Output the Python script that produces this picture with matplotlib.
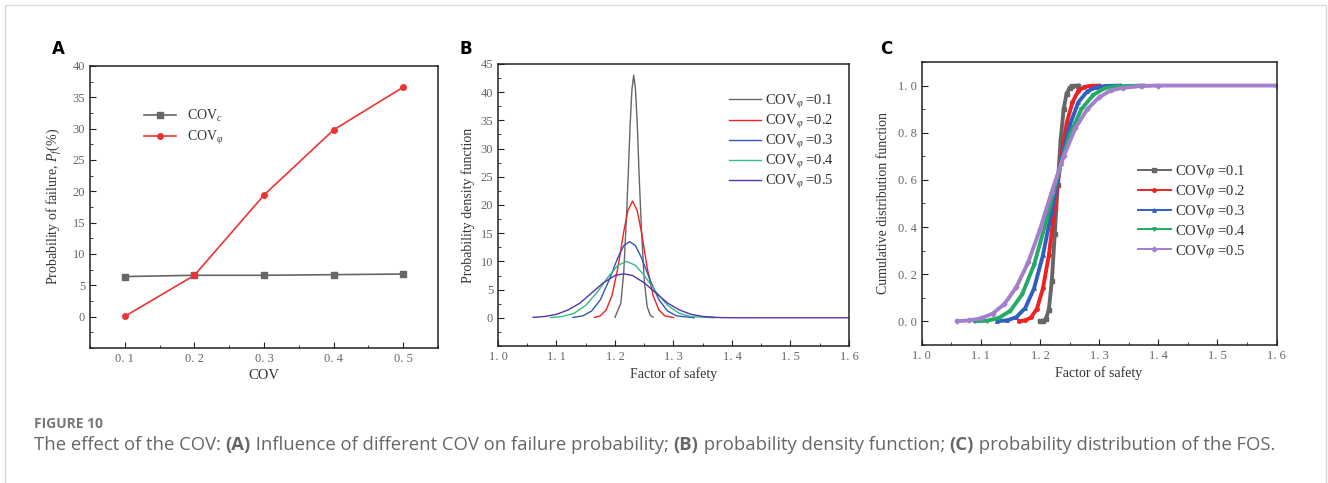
import numpy as np
import matplotlib
matplotlib.use('Agg')
import matplotlib.pyplot as plt
from matplotlib.patches import Rectangle
from matplotlib.ticker import FixedLocator, MultipleLocator

plt.rcParams.update({'font.size': 9})
plt.rcParams['font.family'] = ['Liberation Serif', 'DejaVu Serif']
plt.rcParams['mathtext.fontset'] = 'custom'
plt.rcParams['mathtext.rm'] = 'Liberation Serif'
plt.rcParams['mathtext.it'] = 'Liberation Serif:italic'

# ---- panel A: failure probability ----
cov = [0.1, 0.2, 0.3, 0.4, 0.5]
pf_c = [6.4, 6.6, 6.6, 6.7, 6.8]
pf_phi = [0.05, 6.6, 19.4, 29.8, 36.6]
a_xticks = [0.1, 0.2, 0.3, 0.4, 0.5]
a_xlabels = ['0. 1', '0. 2', '0. 3', '0. 4', '0. 5']
a_yticks = [0, 5, 10, 15, 20, 25, 30, 35, 40]

# ---- panel B: PDF curves ----
pdf_x1 = [1.200, 1.210, 1.215, 1.220, 1.223, 1.226, 1.229, 1.232, 1.235, 1.238, 1.241, 1.245, 1.250,
          1.255, 1.260, 1.265]
pdf_y1 = [0.1, 2.6, 8.1, 18.7, 26.5, 34.5, 40.5, 43.0, 40.5, 34.5, 26.0, 16.1, 6.6, 2.0, 0.5, 0.1]
pdf_x2 = [1.165, 1.175, 1.185, 1.195, 1.205, 1.215, 1.222, 1.230, 1.238, 1.245, 1.255, 1.265, 1.275,
          1.285, 1.300]
pdf_y2 = [0.07, 0.36, 1.4, 4.0, 8.9, 15.3, 19.0, 20.7, 19.0, 15.3, 8.9, 4.0, 1.4, 0.36, 0.03]
pdf_x3 = [1.128, 1.145, 1.160, 1.175, 1.190, 1.205, 1.215, 1.225, 1.235, 1.245, 1.260, 1.275, 1.290,
          1.305, 1.335]
pdf_y3 = [0.06, 0.35, 1.2, 3.2, 6.7, 10.7, 12.8, 13.5, 12.8, 10.7, 6.7, 3.2, 1.2, 0.35, 0.01]
pdf_x4 = [1.090, 1.110, 1.130, 1.150, 1.170, 1.190, 1.205, 1.220, 1.235, 1.250, 1.270, 1.290, 1.310,
          1.330, 1.370]
pdf_y4 = [0.05, 0.23, 0.8, 2.2, 4.6, 7.5, 9.3, 10.0, 9.3, 7.5, 4.6, 2.2, 0.8, 0.23, 0.01]
pdf_x5 = [1.060, 1.080, 1.100, 1.120, 1.140, 1.160, 1.180, 1.200, 1.215, 1.230, 1.250, 1.270, 1.290,
          1.310, 1.330, 1.350, 1.380, 1.420, 1.600]
pdf_y5 = [0.08, 0.24, 0.62, 1.4, 2.6, 4.4, 6.2, 7.5, 7.8, 7.5, 6.2, 4.4, 2.6, 1.4, 0.62, 0.24, 0.04,
          0.0, 0.0]

# ---- panel C: CDF curves ----
cdf_x1 = [1.200, 1.205, 1.210, 1.215, 1.220, 1.225, 1.230, 1.235, 1.240, 1.245, 1.250, 1.255, 1.265]
cdf_y1 = [0.0, 0.002, 0.01, 0.05, 0.17, 0.37, 0.58, 0.77, 0.90, 0.966, 0.99, 0.998, 1.0]
cdf_x2 = [1.165, 1.175, 1.185, 1.195, 1.205, 1.215, 1.225, 1.235, 1.245, 1.255, 1.265, 1.275, 1.285,
          1.300]
cdf_y2 = [0.001, 0.004, 0.017, 0.054, 0.14, 0.28, 0.48, 0.68, 0.84, 0.93, 0.978, 0.994, 0.999, 1.0]
cdf_x3 = [1.128, 1.145, 1.160, 1.175, 1.190, 1.205, 1.220, 1.235, 1.250, 1.265, 1.280, 1.295, 1.310,
          1.335]
cdf_y3 = [0.001, 0.005, 0.018, 0.056, 0.14, 0.28, 0.47, 0.67, 0.83, 0.93, 0.975, 0.993, 0.998, 1.0]
cdf_x4 = [1.090, 1.110, 1.130, 1.150, 1.170, 1.190, 1.210, 1.230, 1.250, 1.270, 1.290, 1.310, 1.330,
          1.375]
cdf_y4 = [0.001, 0.003, 0.014, 0.045, 0.115, 0.24, 0.42, 0.62, 0.79, 0.90, 0.96, 0.99, 0.997, 1.0]
cdf_x5 = [1.060, 1.080, 1.100, 1.120, 1.140, 1.160, 1.180, 1.200, 1.220, 1.240, 1.260, 1.280, 1.300,
          1.320, 1.340, 1.370, 1.400, 1.600]
cdf_y5 = [0.001, 0.004, 0.013, 0.033, 0.074, 0.145, 0.25, 0.39, 0.55, 0.70, 0.82, 0.90, 0.95,
          0.98, 0.99, 0.998, 1.0, 1.0]

fos_ticks = [1.0, 1.1, 1.2, 1.3, 1.4, 1.5, 1.6]
fos_labels = ['1. 0', '1. 1', '1. 2', '1. 3', '1. 4', '1. 5', '1. 6']
b_yticks = [0, 5, 10, 15, 20, 25, 30, 35, 40, 45]
c_yticks = [0.0, 0.2, 0.4, 0.6, 0.8, 1.0]
c_ylabels = ['0. 0', '0. 2', '0. 4', '0. 6', '0. 8', '1. 0']
series_names = ['0.1', '0.2', '0.3', '0.4', '0.5']

tick_col = '#666666'
lab_col = '#333333'


def style_axis(ax):
    for sp in ax.spines.values():
        sp.set_linewidth(1.1)
        sp.set_color('#222222')
    ax.tick_params(which='both', direction='in', top=False, right=False,
                   colors='#222222', labelcolor=tick_col, labelsize=9)
    ax.tick_params(which='major', length=4)
    ax.tick_params(which='minor', length=2.5)


fig = plt.figure(figsize=(13.28, 4.83), dpi=100, facecolor='w')
fig.patches.append(Rectangle((5 / 1328, -0.05), 1321 / 1328, 1 - 5 / 483 + 0.05,
                             transform=fig.transFigure, fill=False,
                             edgecolor='#d9d9d9', linewidth=1.0))

# panel A
ax1 = fig.add_axes([0.0678, 0.2795, 0.262, 0.584])
ax1.plot(cov, pf_c, color='#666666', linewidth=1.2, marker='s', markersize=4, label='COV$_{\\mathit{c}}$')
ax1.plot(cov, pf_phi, color='#ee3333', linewidth=1.2, marker='o', markersize=4, label='COV$_{\\varphi}$')
ax1.set_xlim(0.05, 0.55)
ax1.set_ylim(-5, 40)
ax1.xaxis.set_major_locator(FixedLocator(a_xticks))
ax1.set_xticklabels(a_xlabels)
ax1.xaxis.set_minor_locator(MultipleLocator(0.05))
ax1.yaxis.set_major_locator(FixedLocator(a_yticks))
ax1.yaxis.set_minor_locator(MultipleLocator(2.5))
ax1.set_xlabel('COV', fontsize=10.5, color=lab_col, labelpad=3)
ax1.set_ylabel('Probability of failure, $\\mathit{P}_{\\mathit{f}}$(%)', fontsize=10, color=lab_col, labelpad=6)
style_axis(ax1)
ax1.legend(loc='upper left', bbox_to_anchor=(0.12, 0.895), frameon=False, fontsize=10,
           handlelength=2.3, labelspacing=0.35, labelcolor=lab_col)

# panel B
pdf_cols = ['#666666', '#ee2222', '#3355bb', '#33bb88', '#5533aa']
ax2 = fig.add_axes([0.375, 0.2836, 0.2643, 0.584])
pdf_sets = [(pdf_x1, pdf_y1), (pdf_x2, pdf_y2), (pdf_x3, pdf_y3), (pdf_x4, pdf_y4), (pdf_x5, pdf_y5)]
for (xs, ys), col, nm in zip(pdf_sets, pdf_cols, series_names):
    ax2.plot(xs, ys, color=col, linewidth=1.0, label='COV$_{\\varphi}$ =' + nm)
ax2.set_xlim(1.0, 1.6)
ax2.set_ylim(-5, 45)
ax2.xaxis.set_major_locator(FixedLocator(fos_ticks))
ax2.set_xticklabels(fos_labels)
ax2.xaxis.set_minor_locator(MultipleLocator(0.05))
ax2.yaxis.set_major_locator(FixedLocator(b_yticks))
ax2.yaxis.set_minor_locator(MultipleLocator(2.5))
ax2.set_xlabel('Factor of safety', fontsize=10, color=lab_col, labelpad=3)
ax2.set_ylabel('Probability density function', fontsize=10, color=lab_col, labelpad=4)
style_axis(ax2)
ax2.legend(loc='upper right', bbox_to_anchor=(0.995, 0.945), frameon=False, fontsize=10.5,
           handlelength=2.2, labelspacing=0.15, handletextpad=0.3, labelcolor=lab_col)

# panel C
cdf_cols = ['#666666', '#ee2222', '#2f5fc4', '#22aa66', '#a47fcc']
cdf_marks = ['s', 'o', '^', 'v', 'D']
ax3 = fig.add_axes([0.694, 0.2857, 0.2673, 0.586])
cdf_sets = [(cdf_x1, cdf_y1), (cdf_x2, cdf_y2), (cdf_x3, cdf_y3), (cdf_x4, cdf_y4), (cdf_x5, cdf_y5)]
for (xs, ys), col, mk, nm in zip(cdf_sets, cdf_cols, cdf_marks, series_names):
    ax3.plot(xs, ys, color=col, linewidth=2.8, marker=mk, markersize=2.5,
             label='COV$\\varphi$ =' + nm)
ax3.set_xlim(1.0, 1.6)
ax3.set_ylim(-0.1, 1.1)
ax3.xaxis.set_major_locator(FixedLocator(fos_ticks))
ax3.set_xticklabels(fos_labels)
ax3.xaxis.set_minor_locator(MultipleLocator(0.05))
ax3.yaxis.set_major_locator(FixedLocator(c_yticks))
ax3.set_yticklabels(c_ylabels)
ax3.yaxis.set_minor_locator(MultipleLocator(0.1))
ax3.set_xlabel('Factor of safety', fontsize=10, color=lab_col, labelpad=3)
ax3.set_ylabel('Cumulative distribution function', fontsize=10, color=lab_col, labelpad=6)
style_axis(ax3)
leg = ax3.legend(loc='upper right', bbox_to_anchor=(0.95, 0.69), frameon=False, fontsize=10.5,
                 handlelength=2.2, labelspacing=0.2, handletextpad=0.3, labelcolor=lab_col)
for h in leg.get_lines():
    h.set_linewidth(1.4)

# panel letters
for lx, letter in [(58, 'A'), (466, 'B'), (886, 'C')]:
    fig.text(lx / 1328, 1 - 49 / 483, letter, fontsize=12, fontweight='bold',
             family='DejaVu Sans', ha='center', va='center', color='black')

# caption
fig.text(34 / 1328, 1 - 424 / 483, 'FIGURE 10', fontsize=10, fontweight='bold',
         family='Open Sans', color='#777777', va='center')
parts = [('The effect of the COV: ', 'normal'), ('(A)', 'bold'),
         (' Influence of different COV on failure probability; ', 'normal'), ('(B)', 'bold'),
         (' probability density function; ', 'normal'), ('(C)', 'bold'),
         (' probability distribution of the FOS.', 'normal')]
renderer = fig.canvas.get_renderer()
xpos = 34
for txt, wt in parts:
    t = fig.text(xpos / 1328, 1 - 445 / 483, txt, fontsize=13.3, fontweight=wt,
                 family='Open Sans', color='#666666', va='center')
    bb = t.get_window_extent(renderer=renderer)
    xpos += bb.width

fig.savefig('out.png', dpi=100)
